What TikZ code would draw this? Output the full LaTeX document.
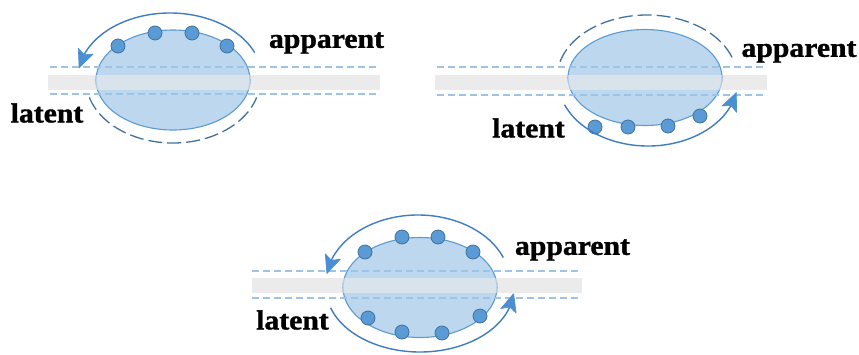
\documentclass[tikz,border=0pt]{standalone}
\usepackage{fontspec}
\setmainfont{Liberation Serif}[BoldFeatures={FakeBold=1.3,FakeStretch=1.08}]
\usetikzlibrary{calc}
\definecolor{cellfill}{HTML}{BDD7EE}
\definecolor{celledge}{HTML}{5B9BD5}
\definecolor{dotfill}{HTML}{5B9BD5}
\definecolor{dotedge}{HTML}{41719C}
\definecolor{flowline}{HTML}{3F7CC0}
\definecolor{flowtip}{HTML}{4C8ED2}
\definecolor{ghostline}{HTML}{41719C}
\definecolor{layerline}{HTML}{9DC3E6}
\definecolor{layerfill}{HTML}{EBEBEB}
\tikzset{
  layerbar/.style={fill=layerfill, draw=none},
  layerveil/.style={fill=layerfill, fill opacity=0.6, draw=none},
  layeredge/.style={draw=layerline, line width=1.2pt, dash pattern=on 7pt off 4pt},
  cell/.style={fill=cellfill, draw=celledge, line width=1.1pt},
  particle/.style={fill=dotfill, draw=dotedge, line width=0.8pt},
  flowpath/.style={draw=flowline, line width=1.4pt},
  flowhead/.style={fill=flowtip, draw=flowtip, line width=0.6pt, line join=round},
  ghost/.style={draw=ghostline, line width=1.3pt, dash pattern=on 14pt off 5pt},
  tag/.style={font=\bfseries\fontsize{27.5}{30}\selectfont, inner sep=0pt}
}
% elliptic arc (centre #1,#2; radii #3,#4; from angle #5 down to #6) ending in
% a filled arrowhead whose tip is the named coordinate #7tip
\newcommand\flowarc[7]{%
  \draw[flowpath] (#1,#2) ++(#5:#3 and #4)
    arc[start angle=#5, end angle=#6+7, x radius=#3, y radius=#4];
  \coordinate (#7tip) at ($(#1,#2)+(#6:#3 and #4)$);
  \coordinate (#7tail) at ($(#1,#2)+(#6+13:#3 and #4)$);
  \coordinate (#7base) at ($(#7tip)!18pt!(#7tail)$);
  \fill[flowhead] (#7tip) -- ($(#7base)!8pt!90:(#7tip)$)
    -- ($(#7base)!4pt!(#7tip)$) -- ($(#7base)!8pt!-90:(#7tip)$) -- cycle;
}
\begin{document}
\begin{tikzpicture}[x=1pt, y=-1pt]
\useasboundingbox (0,0) rectangle (859,354);

% ---------- first panel: particles on the upper side ----------
\fill[layerbar] (48,75) rectangle (380,90);
\path[cell] (173,80) ellipse[x radius=77, y radius=50];
\fill[layerveil] (96,75) rectangle (250,90);
\draw[layeredge] (50,67) -- (380,67);
\draw[layeredge] (50,94) -- (380,94);
\foreach \px/\py in {118/46, 155/33, 192/33, 227/46}
  \path[particle] (\px,\py) circle[radius=7];
\flowarc{170}{78}{92}{65}{-23}{-171}{upA}
\draw[ghost] (173,80) ++(164:87 and 63) arc[start angle=164, end angle=16, x radius=87, y radius=63];
\node[tag] (app1) at (326.5,43) {apparent};
\node[tag] (lat1) at (47,113) {latent};

% ---------- second panel: particles on the lower side ----------
\fill[layerbar] (435,75) rectangle (767,90);
\path[cell] (645,77.5) ellipse[x radius=77, y radius=48];
\fill[layerveil] (568,75) rectangle (722,90);
\draw[layeredge] (437,67) -- (767,67);
\draw[layeredge] (437,95) -- (767,95);
\foreach \px/\py in {595/127, 628/127, 668/126, 700/116}
  \path[particle] (\px,\py) circle[radius=7];
\draw[ghost] (647,78) ++(-165:90 and 63) arc[start angle=-165, end angle=-15, x radius=90, y radius=63];
\flowarc{648}{80}{90}{66}{158}{11}{downB}
\node[tag] (app2) at (799,52) {apparent};
\node[tag] (lat2) at (528.5,128) {latent};

% ---------- third panel: particles on both sides ----------
\fill[layerbar] (252,278) rectangle (582,293);
\path[cell] (420,287.5) ellipse[x radius=77, y radius=50];
\fill[layerveil] (343,278) rectangle (497,293);
\draw[layeredge] (252,271) -- (582,271);
\draw[layeredge] (252,298) -- (582,298);
\foreach \px/\py in {365/252, 402/237, 438/237, 473/252, 368/318, 402/332, 442/333, 480/316}
  \path[particle] (\px,\py) circle[radius=7];
\flowarc{418}{283}{92}{68}{-22}{-172}{upC}
\flowarc{420}{288}{94}{64}{162}{5}{downC}
\node[tag] (app3) at (572.5,250) {apparent};
\node[tag] (lat3) at (292.5,320) {latent};
\end{tikzpicture}
\end{document}
